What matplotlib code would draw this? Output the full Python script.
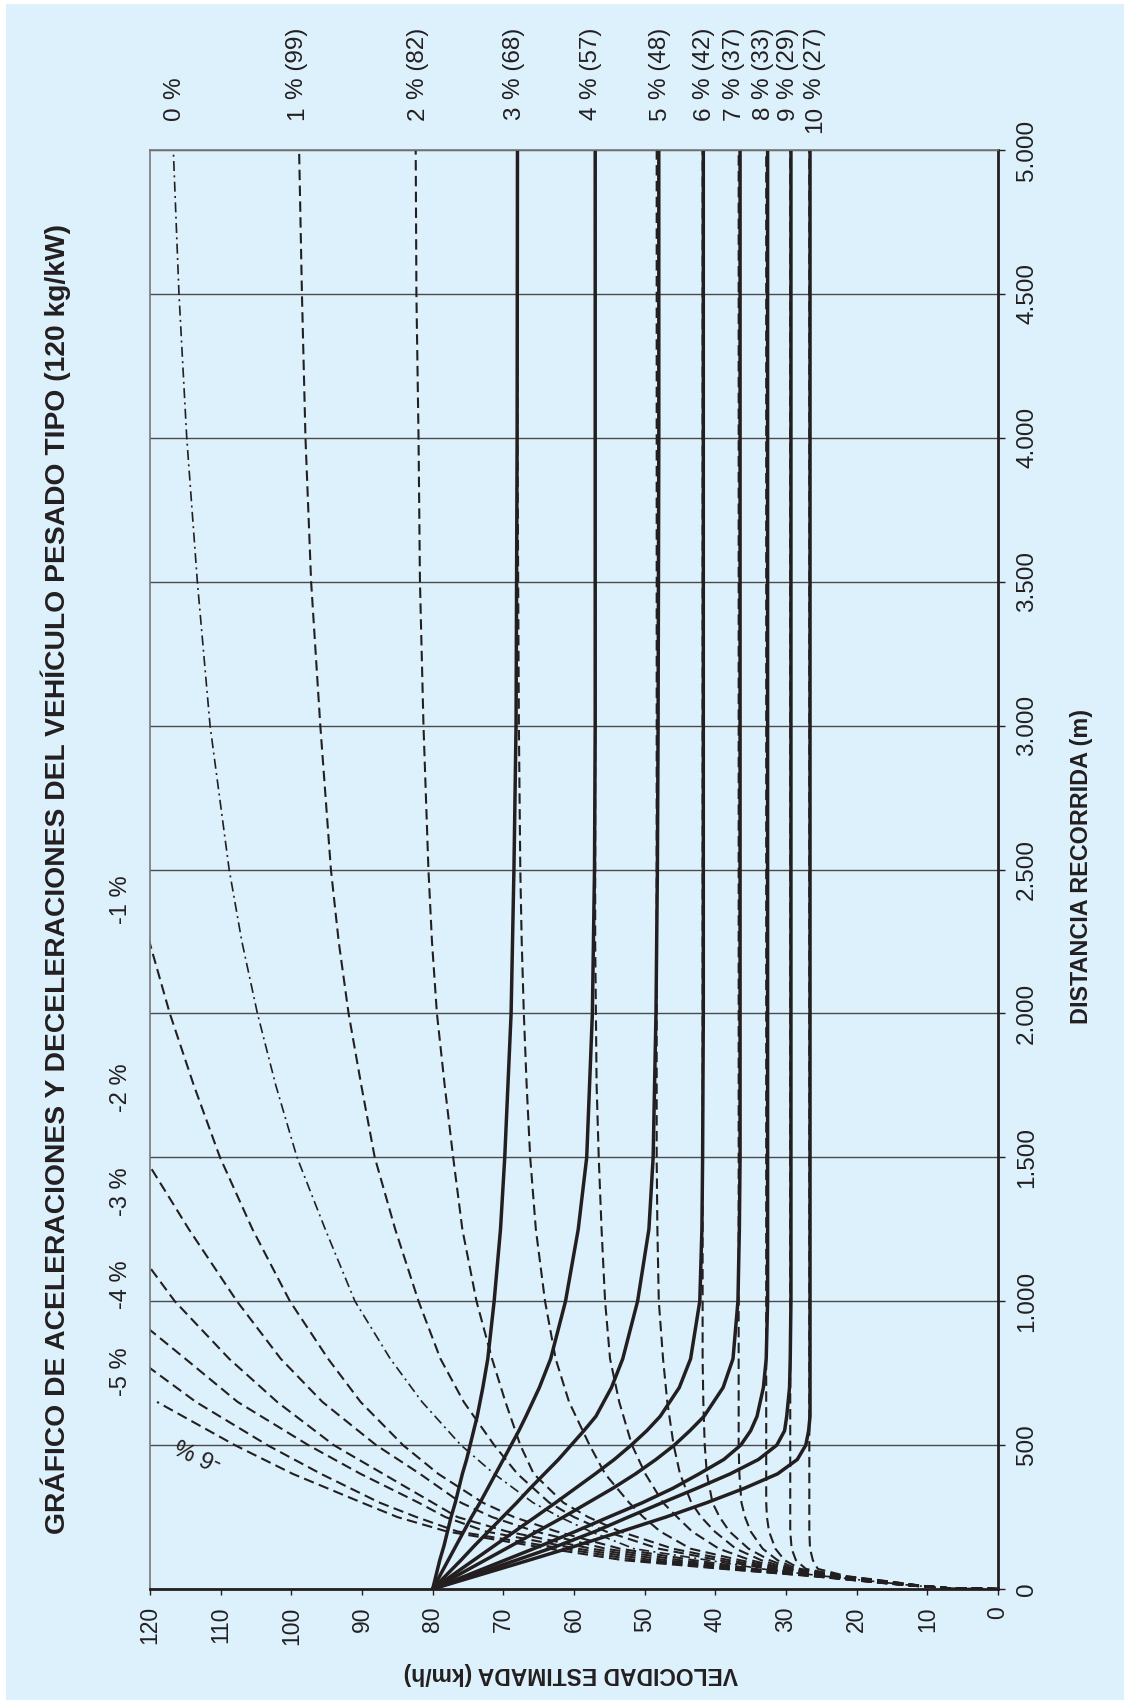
import matplotlib
matplotlib.use("Agg")
import matplotlib.pyplot as plt
from matplotlib import transforms
from matplotlib.patches import Rectangle

plt.rcParams['font.family'] = ['Liberation Sans', 'DejaVu Sans']

W, H = 1124, 1700
BLUE = '#dcf1fc'
INK = '#231f20'

# axes
speed_ticks = [0, 10, 20, 30, 40, 50, 60, 70, 80, 90, 100, 110, 120]
dist_ticks = [0, 500, 1000, 1500, 2000, 2500, 3000, 3500, 4000, 4500, 5000]
dist_tick_labels = ['0', '500', '1.000', '1.500', '2.000', '2.500',
                    '3.000', '3.500', '4.000', '4.500', '5.000']

# deceleration from 80 km/h on up-grades (solid lines), speed km/h vs metres
dec_dist = [0, 50, 100, 150, 200, 250, 300, 350, 400, 450, 500, 550, 600,
            700, 800, 1000, 1250, 1500, 2000, 2500, 3000, 4000, 5000]
dec_3 = [80, 79.5, 79.0, 78.4, 77.9, 77.4, 76.8, 76.3, 75.8, 75.2, 74.7, 74.2, 73.7,
         72.9, 72.2, 71.3, 70.4, 69.8, 68.9, 68.5, 68.2, 68.05, 68.0]
dec_4 = [80, 78.9, 77.8, 76.7, 75.6, 74.5, 73.3, 72.2, 71.1, 70.0, 68.9, 67.8, 66.8,
         64.9, 63.3, 61.2, 59.4, 58.2, 57.4, 57.1, 57.0, 57.0, 57.0]
dec_5 = [80, 78.0, 76.0, 74.1, 72.1, 70.1, 68.1, 66.2, 64.2, 62.2, 60.4, 58.6, 56.9,
         54.7, 53.1, 51.0, 49.4, 48.8, 48.4, 48.2, 48.1, 48.0, 48.0]
dec_6 = [80, 77.1, 74.2, 71.3, 68.4, 65.5, 62.6, 59.8, 57.0, 54.3, 51.9, 49.7, 47.8,
         45.1, 43.5, 42.2, 41.9, 41.8, 41.7, 41.7, 41.7, 41.7, 41.7]
dec_7 = [80, 76.3, 72.6, 68.9, 65.2, 61.5, 58.0, 54.5, 51.3, 48.4, 45.8, 43.6, 41.6,
         38.9, 37.5, 36.8, 36.6, 36.5, 36.5, 36.5, 36.5, 36.5, 36.5]
dec_8 = [80, 74.9, 69.8, 64.7, 59.8, 55.1, 50.3, 46.0, 42.3, 38.8, 36.4, 35.0, 34.1,
         33.2, 32.8, 32.6, 32.6, 32.6, 32.6, 32.6, 32.6, 32.6, 32.6]
dec_9 = [80, 74.1, 68.2, 62.3, 57.0, 52.3, 47.5, 42.6, 37.9, 33.9, 31.3, 30.2, 29.9,
         29.5, 29.4, 29.3, 29.3, 29.3, 29.3, 29.3, 29.3, 29.3, 29.3]
dec_10 = [80, 73.2, 66.4, 59.7, 53.3, 47.0, 41.2, 35.9, 31.2, 28.4, 27.2, 26.8, 26.6,
          26.6, 26.6, 26.6, 26.6, 26.6, 26.6, 26.6, 26.6, 26.6, 26.6]

# acceleration from standstill on each grade (dashed, 0 % dash-dot)
acc_dist = [0, 3, 12, 25, 45, 70, 100, 140, 200, 250, 300, 400, 500, 650, 800,
            1000, 1250, 1500, 1750, 2000, 2250, 2500, 3000, 3500, 4000, 4500, 5000]
acc_10 = [0, 7, 11.0, 15.0, 21.5, 25.5, 26.2, 26.6, 26.7] + [26.7] * 18
acc_9 = [0, 7, 11.1, 15.2, 22.0, 27.2, 28.6, 29.2, 29.4] + [29.4] * 18
acc_8 = [0, 7, 11.2, 15.4, 22.5, 28.0, 30.2, 31.5, 32.4, 32.7, 32.8] + [32.8] * 16
acc_7 = [0, 7, 11.3, 15.6, 22.7, 28.5, 31.2, 33.3, 35.0, 35.8, 36.3, 36.6, 36.7] + [36.7] * 14
acc_6 = [0, 7, 11.4, 15.8, 23.0, 29.0, 32.3, 35.3, 38.0, 39.4, 40.4, 41.2, 41.5,
         41.7, 41.8] + [41.8] * 12
acc_5 = [0, 7, 11.5, 16.0, 23.2, 29.5, 33.5, 37.1, 40.1, 42.0, 43.4, 45.0, 45.9,
         46.8, 47.4, 48.0, 48.2, 48.3] + [48.3] * 9
acc_4 = [0, 7, 11.6, 16.2, 23.5, 30.0, 35.0, 39.5, 43.3, 45.4, 47.4, 49.9, 51.8,
         53.6, 54.9, 55.6, 56.1, 56.5, 56.8, 56.9, 57.0] + [57.0] * 6
acc_3 = [0, 7, 11.7, 16.4, 23.8, 30.5, 36.5, 43.5, 47.8, 50.2, 52.2, 55.6, 57.8,
         60.7, 62.6, 64.1, 65.4, 66.2, 66.7, 67.1, 67.4, 67.6, 67.8, 67.9, 68.0, 68.0, 68.0]
acc_2 = [0, 7, 11.8, 16.6, 24.1, 31.5, 38.0, 46.0, 53.5, 58.0, 61.5, 65.7, 67.6,
         69.7, 71.6, 73.8, 75.8, 77.1, 78.3, 79.4, 80.1, 80.6, 81.3, 81.8, 82.0, 82.3, 82.4]
acc_1 = [0, 7, 11.9, 16.8, 24.4, 32.5, 39.5, 48.0, 55.5, 60.0, 63.5, 68.0, 71.3,
         75.6, 78.9, 82.0, 85.3, 88.2, 90.1, 91.9, 93.3, 94.4, 95.9, 97.2, 98.0, 98.5, 98.9]
acc_0 = [0, 7, 12.0, 17.0, 24.7, 33.5, 41.0, 51.5, 57.7, 62.0, 65.8, 71.3, 76.0,
         81.5, 86.0, 91.0, 95.2, 99.2, 102.2, 104.8, 107.0, 108.8, 111.5, 113.3, 114.8, 115.9, 116.7]
acc_m1 = [0, 7, 12.1, 17.2, 25.0, 34.5, 43.0, 53.5, 62.5, 68.5, 72.9, 79.2, 84.2,
          90.2, 94.8, 100.2, 105.5, 110.1, 113.8, 117.2, 120.1]
acc_m2 = [0, 7, 12.2, 17.4, 25.3, 35.5, 45.0, 55.5, 65.5, 71.6, 76.0, 81.8, 88.0,
          95.6, 101.5, 107.7, 114.5, 120.8]
acc_m3 = [0, 7, 12.3, 17.6, 25.6, 36.5, 47.0, 57.5, 69.5, 76.5, 80.0, 87.0, 94.0,
          102.0, 108.8, 116.5, 124.0]
acc_m4 = [0, 7, 12.4, 17.8, 25.9, 37.5, 49.0, 59.5, 72.5, 78.2, 82.0, 90.2, 97.6,
          107.6, 115.0, 125.0]
acc_m5 = [0, 7, 12.5, 18.0, 26.2, 38.5, 51.0, 61.5, 76.5, 82.3, 87.5, 95.8, 103.4,
          113.5, 121.8]
acc_m6 = [0, 7, 12.6, 18.2, 26.5, 39.0, 53.0, 63.5, 78.0, 85.0, 90.0, 99.8, 108.0, 119.0]

crawl_labels = ['', '99', '82', '68', '57', '48', '42', '37', '33', '29', '27']
downhill_labels = ['-1 %', '-2 %', '-3 %', '-4 %', '-5 %']

title = 'GRÁFICO DE ACELERACIONES Y DECELERACIONES DEL VEHÍCULO PESADO TIPO (120 kg/kW)'

# where the grade labels sit along the speed axis (layout)
label_speed = [116.6, 99.2, 82.1, 68.5, 57.6, 47.8, 41.6, 37.4, 33.3, 29.7, 25.9]


def fx(px):
    return px / W


def fy(py):
    return 1 - py / H


fig = plt.figure(figsize=(W / 100, H / 100), dpi=100)
fig.patch.set_facecolor('white')
fig.add_artist(Rectangle((fx(6), 0), 1 - fx(6), 1 - 4 / H, transform=fig.transFigure,
                         facecolor=BLUE, edgecolor='none', zorder=-10))

ax = fig.add_axes([fx(150), fy(1589), 848 / W, 1439 / H])
ax.set_facecolor(BLUE)
ax.set_xlim(120, 0)
ax.set_ylim(0, 5000)

dash = dict(color=INK, lw=1.5, ls=(0, (5.0, 2.6)))
accel = [acc_10, acc_9, acc_8, acc_7, acc_6, acc_5, acc_4, acc_3, acc_2, acc_1,
         acc_m1, acc_m2, acc_m3, acc_m4, acc_m5, acc_m6]
for v in accel:
    ax.plot(v, acc_dist[:len(v)], **dash)
ax.plot(acc_0, acc_dist, color=INK, lw=1.2, ls=(0, (6.0, 2.6, 1.2, 2.6)))

decel = [dec_3, dec_4, dec_5, dec_6, dec_7, dec_8, dec_9, dec_10]
for v in decel:
    ax.plot(v, dec_dist, color=INK, lw=2.5, solid_capstyle='round')

# axes cosmetics
ax.set_xticks(speed_ticks)
ax.set_xticklabels([str(s) for s in speed_ticks])
ax.yaxis.tick_right()
ax.set_yticks(dist_ticks)
ax.set_yticklabels(dist_tick_labels)
ax.grid(axis='y', color='#4a4a4a', lw=1.0)
ax.set_axisbelow(True)
ax.tick_params(axis='x', direction='out', length=4.5, width=1.0, color=INK,
               labelsize=16.5, labelcolor=INK, labelrotation=90, pad=8)
ax.tick_params(axis='y', direction='out', length=5, width=1.0, color=INK,
               labelsize=17.5, labelcolor=INK, labelrotation=90, pad=8)
for lab in ax.get_yticklabels():
    lab.set_va('center')
for side in ['left', 'top']:
    ax.spines[side].set_color('#777777')
    ax.spines[side].set_linewidth(1.2)
for side in ['right', 'bottom']:
    ax.spines[side].set_color(INK)
    ax.spines[side].set_linewidth(2.0)

# grade labels above the chart
trans = transforms.blended_transform_factory(ax.transData, fig.transFigure)
for g, (xs, crawl) in enumerate(zip(label_speed, crawl_labels)):
    rest = '%' if not crawl else '% (' + crawl + ')'
    ax.text(xs, fy(106), str(g), transform=trans, rotation=90, rotation_mode='anchor',
            ha='right', va='center', fontsize=17.5, color=INK)
    ax.text(xs, fy(99), rest, transform=trans, rotation=90, rotation_mode='anchor',
            ha='left', va='center', fontsize=17.5, color=INK)

# down-grade labels on the left margin
for lab, py in zip(downhill_labels, [900, 1088, 1192, 1285, 1372]):
    fig.text(fx(121), fy(py), lab, rotation=90, ha='center', va='center',
             fontsize=17, color=INK)
fig.text(fx(199), fy(1452), '-6 %', rotation=155, ha='center', va='center',
         fontsize=17, color=INK)

fig.text(fx(65), fy(879), title, rotation=90, rotation_mode='anchor', ha='center',
         va='baseline', fontsize=20.3, fontweight='bold', color=INK)
fig.text(fx(1088), fy(867), 'DISTANCIA RECORRIDA (m)', rotation=90, rotation_mode='anchor',
         ha='center', va='baseline', fontsize=16.8, fontweight='bold', color=INK)
fig.text(fx(571), fy(1667), 'VELOCIDAD ESTIMADA (km/h)', rotation=180, rotation_mode='anchor',
         ha='center', va='baseline', fontsize=16.5, fontweight='bold', color=INK)

fig.savefig('out.png', dpi=100)
